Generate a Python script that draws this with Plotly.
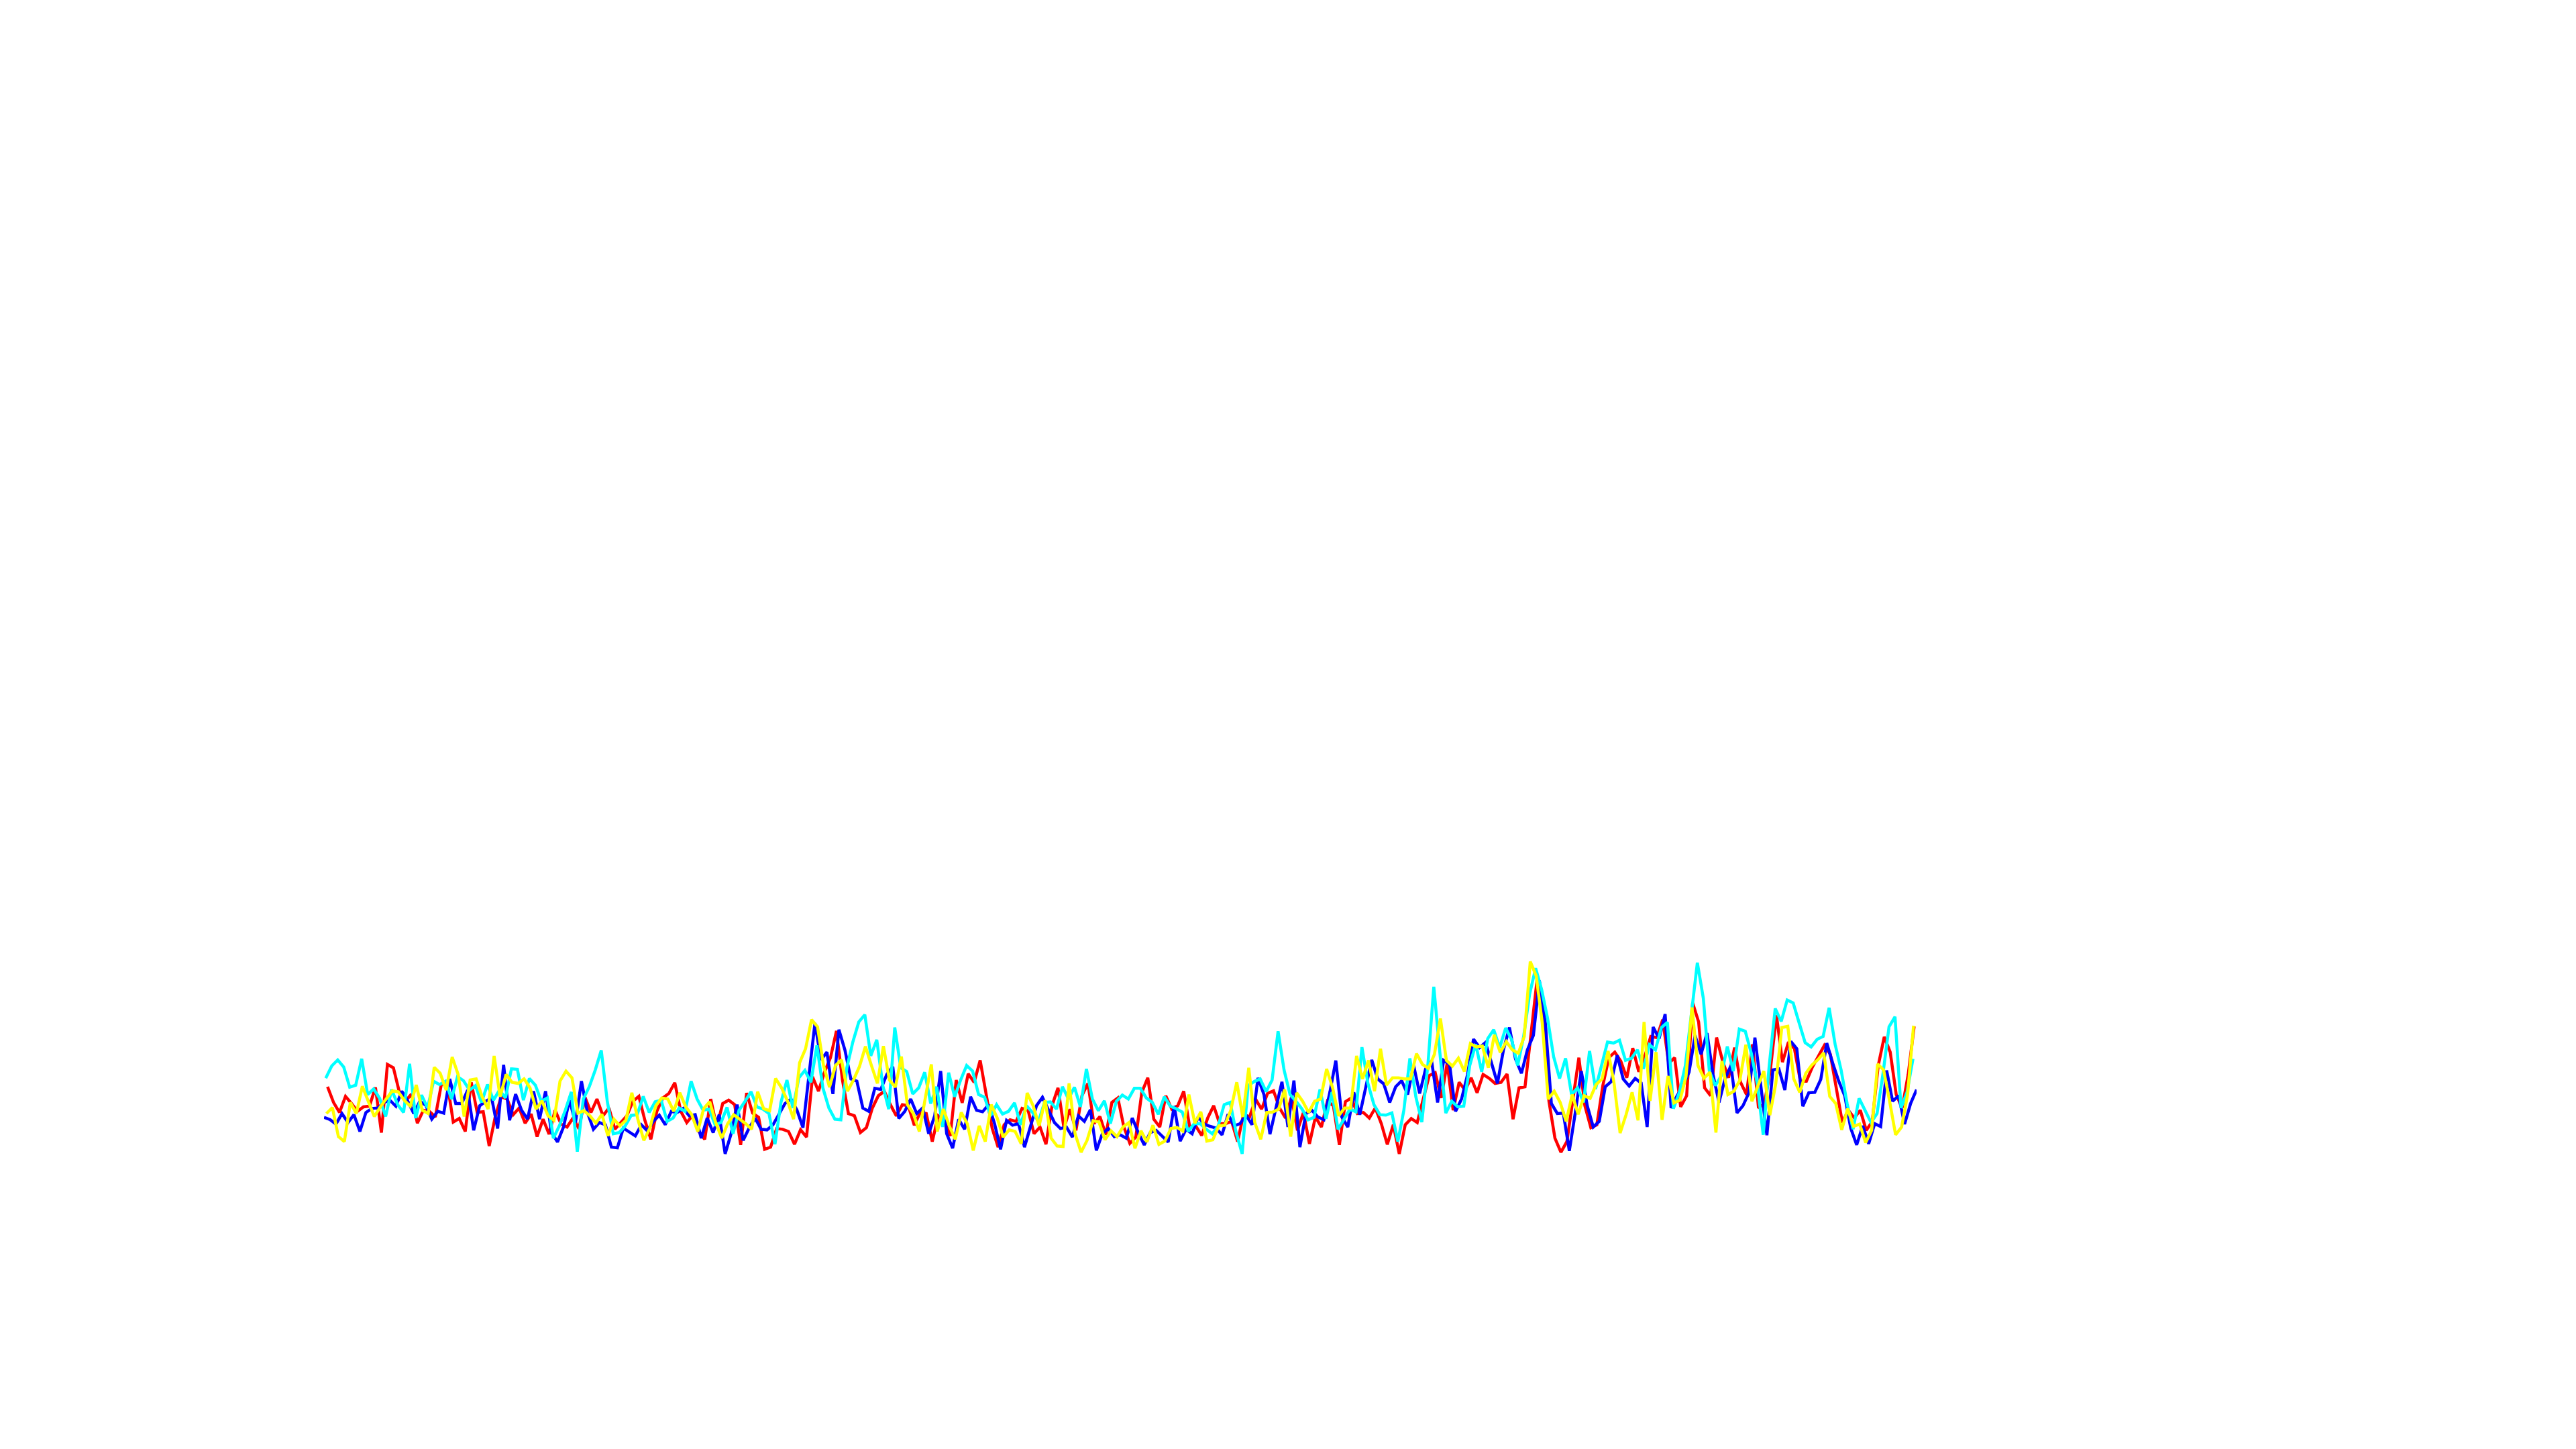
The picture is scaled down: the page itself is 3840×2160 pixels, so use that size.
import numpy as np
import plotly.graph_objects as go

red = [585,655,700,628,660,695,675,672,588,790,485,500,610,650,618,748,690,695,720,575,570,743,727,785,565,700,697,850,720,630,640,710,680,
748,707,808,730,797,690,752,765,725,773,632,700,640,715,680,775,745,715,650,628,735,820,695,635,615,567,695,745,712,785,820,640,765,660,
645,665,845,613,703,722,865,855,772,775,785,842,777,810,540,605,520,455,335,555,705,715,790,768,680,625,605,665,715,665,670,757,700,
705,830,715,735,805,555,657,527,565,467,625,770,855,755,733,740,682,690,795,765,842,670,590,770,685,780,625,570,750,718,800,655,635,765,
838,810,610,545,730,765,625,685,670,605,765,760,803,725,670,750,750,740,830,708,720,640,685,615,603,680,725,630,780,700,840,720,765,
650,670,845,652,635,705,700,725,680,750,843,755,885,755,727,745,640,535,522,635,480,690,565,600,545,612,530,547,570,565,528,730,590,585,
350,110,300,650,815,878,830,640,455,670,768,755,580,455,430,470,545,412,518,450,360,365,285,480,455,675,625,210,295,590,625,365,470,545,
410,565,620,395,680,660,505,265,475,385,415,560,560,497,450,400,440,600,745,690,725,690,780,740,490,362,430,620,680,530,315]

blue = [722,732,752,705,745,710,785,700,682,680,655,645,672,605,650,705,650,668,730,695,703,550,660,660,600,780,670,650,635,772,487,735,618,690,
730,605,730,605,790,832,765,645,745,560,700,775,745,755,855,858,770,788,805,755,782,740,712,755,695,700,682,715,710,815,725,790,710,885,
795,665,825,770,725,775,778,755,710,660,640,690,768,540,300,465,430,617,330,420,550,560,680,695,592,597,530,495,727,695,640,705,680,
795,715,515,795,860,730,775,630,690,697,665,750,865,735,757,750,855,760,670,632,690,745,772,765,810,715,740,688,870,795,772,808,800,815,
725,790,845,790,780,805,832,672,828,775,795,720,752,762,770,800,708,760,750,712,755,545,620,797,680,563,765,557,855,705,690,720,733,
610,468,720,765,610,710,590,465,550,572,655,585,558,620,490,615,505,470,655,467,485,695,640,530,372,410,387,480,570,420,320,460,525,420,
355,110,300,660,705,703,872,700,515,670,765,740,585,562,445,550,582,548,568,765,318,370,260,680,625,580,520,355,440,345,530,655,550,
490,702,670,612,365,590,802,510,505,600,382,415,672,612,610,552,390,480,560,625,770,845,760,840,750,763,512,650,625,752,660,598]

cyan = [547,492,465,497,587,578,460,620,595,637,718,597,665,700,482,725,622,680,560,575,560,640,540,558,600,580,655,575,645,600,635,505,507,
645,548,578,650,635,815,760,690,608,875,640,585,510,422,650,795,790,760,713,710,628,700,652,645,740,725,680,695,560,640,690,685,755,745,
677,795,690,650,607,675,685,705,842,655,555,680,545,512,565,400,590,680,730,733,500,385,295,263,447,375,580,685,320,500,517,617,590,
520,660,585,765,522,630,555,490,515,620,632,715,665,707,695,657,755,670,700,740,655,653,685,585,640,587,675,505,640,692,648,750,650,622,
640,592,592,635,655,708,630,672,683,698,785,750,750,775,795,760,665,655,790,885,580,562,550,607,555,337,510,620,650,685,733,722,597,
728,610,775,730,685,697,408,570,665,710,712,702,830,690,458,630,743,490,138,430,703,650,675,672,490,395,518,370,330,410,322,375,490,360,
170,55,150,280,450,548,458,620,590,655,425,595,490,385,390,377,467,458,420,505,397,420,320,297,683,610,490,270,30,190,515,580,535,405,
515,327,337,435,570,800,490,235,293,197,210,300,388,407,373,360,232,395,510,660,775,637,695,745,705,525,317,272,680,610,460]

yellow = [705,678,808,830,655,705,583,650,718,675,640,603,608,645,672,577,690,705,498,525,600,452,530,718,555,550,630,685,447,630,530,565,570,
550,590,685,648,715,735,560,515,545,703,692,715,748,708,805,730,760,735,612,730,825,770,670,635,640,695,612,675,710,785,682,652,745,815,
750,710,730,750,775,607,683,692,548,590,650,730,478,415,285,317,490,587,490,465,605,555,495,405,490,570,403,555,587,450,665,705,785,
640,485,785,685,760,820,700,750,870,760,830,665,725,810,778,785,840,613,670,760,645,815,850,852,570,795,878,825,737,743,822,782,808,765,
745,860,782,832,757,843,828,772,767,783,620,748,697,828,822,760,757,690,565,720,500,745,820,700,698,685,597,808,612,650,700,650,640,
505,590,715,680,680,447,550,467,605,415,578,545,545,550,550,437,485,503,440,280,467,493,457,517,392,407,403,500,353,432,383,420,435,360,
25,90,300,640,605,655,740,620,708,625,637,575,550,425,570,792,710,610,735,295,648,430,733,537,657,645,540,230,490,547,520,790,470,620,
605,555,397,650,585,515,712,570,320,315,550,610,525,488,465,433,628,660,778,683,762,752,835,780,483,510,650,800,765,620,312]

colors = {"red": "#ff0000", "blue": "#0000ff", "cyan": "#00ffff", "yellow": "#ffff00"}
x_spans = {"red": [0.59, 265.6], "blue": [0.0, 266.0], "cyan": [0.29, 265.4], "yellow": [0.4, 265.5]}
series = {"red": red, "blue": blue, "cyan": cyan, "yellow": yellow}

fig = go.Figure()
for name, values in series.items():
    a, b = x_spans[name]
    fig.add_trace(go.Scatter(
        x=np.linspace(a, b, len(values)), y=values, mode="lines", name=name,
        line=dict(color=colors[name], width=4.5), cliponaxis=False, showlegend=False,
    ))

fig.update_layout(
    width=3840, height=2160, autosize=False,
    margin=dict(l=475, r=991, t=1417, b=438, pad=0),
    paper_bgcolor="#ffffff", plot_bgcolor="#ffffff",
    xaxis=dict(range=[0, 266], visible=False),
    yaxis=dict(range=[915, 0], visible=False),
    showlegend=False,
)
fig.write_html("out.html")
